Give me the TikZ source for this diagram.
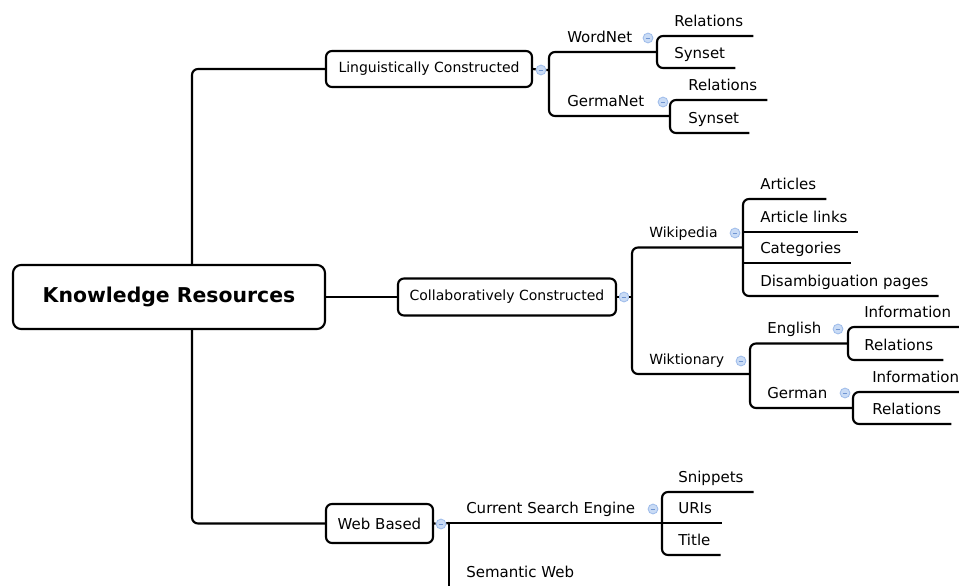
\documentclass[tikz,border=0pt]{standalone}
\usepackage{fontspec}
\setmainfont{DejaVu Sans}
\usetikzlibrary{calc}
\definecolor{foldfill}{HTML}{C9DBF5}
\definecolor{foldline}{HTML}{9DBBEA}
\definecolor{foldminus}{HTML}{6F95D2}
\begin{document}
\begin{tikzpicture}[x=0.75pt, y=-0.75pt,
    link/.style={line width=1.6pt, rounded corners=4.5pt},
    topic/.style={draw, line width=1.6pt, rounded corners=4.5pt, inner sep=0pt, font=\fontsize{10.5}{12}\selectfont},
    leaf/.style={anchor=south west, inner sep=0pt, text depth=7pt, font=\fontsize{11.25}{13.5}\selectfont},
    twig/.style={leaf, font=\fontsize{10.5}{12}\selectfont},
    foldicon/.style={circle, draw=foldline, fill=foldfill, line width=0.6pt, minimum size=7.4pt, inner sep=0pt,
      path picture={\draw[foldminus, line width=0.7pt] ($(path picture bounding box.center)+(-1.7pt,0)$) -- ++(3.4pt,0);}}]
        \useasboundingbox (0,0) rectangle (959,585);
        \clip (0,0) rectangle (959,585);
        %%%%%%%%%%%%%%%%%%%%%%%% Raiz y ramas principales %%%%%%%%%%%%%%%%%%%%%%%%%%%
        \node[topic, minimum width=234pt, minimum height=48pt, rounded corners=6pt,
              font=\fontsize{15.3}{18}\selectfont\bfseries] (root) at (169,297) {Knowledge Resources};
        \node[topic, minimum width=154.5pt, minimum height=27pt] (ling) at (429,69) {Linguistically Constructed};
        \node[topic, minimum width=163.5pt, minimum height=27.75pt] (collab) at (507,297) {Collaboratively Constructed};
        \node[topic, minimum width=80.25pt, minimum height=29.25pt, font=\fontsize{11.25}{13.5}\selectfont] (web) at (379.5,523.5) {Web Based};
        \coordinate (trunk) at (192,297); %Tronco vertical
        \draw[link] (ling.west) -| (trunk |- root.north);
        \draw[link] (web.west) -| (trunk |- root.south);
        \draw[link] (root.east) -- (collab.west);
        %%%%%%%%%%%%%%%%%%%%%%%% Linguistically Constructed %%%%%%%%%%%%%%%%%%%%%%%%%
        \node[foldicon] (lingF) at (541,70) {};
        \coordinate (lingB) at (549,70);
        \coordinate (wnB) at (657,52);
        \coordinate (gnB) at (670,116);
        \draw[link] (ling.east) -- (lingF) -- (lingB);
        \draw[link] (wnB) -| (lingB) |- (gnB);
        \node[leaf] (wordnet) at (567,52) {WordNet};
        \node[foldicon] (wordnetF) at (648,38) {};
        \node[leaf] (wnRel) at (674,36) {Relations};
        \node[leaf] (wnSyn) at (674,68) {Synset};
        \draw[link] ($(wnRel.south east)+(10,0)$) -| (wnB) |- ($(wnSyn.south east)+(10,0)$);
        \node[leaf] (germanet) at (567,116) {GermaNet};
        \node[foldicon] (germanetF) at (663,102) {};
        \node[leaf] (gnRel) at (688,100) {Relations};
        \node[leaf] (gnSyn) at (688,133) {Synset};
        \draw[link] ($(gnRel.south east)+(10,0)$) -| (gnB) |- ($(gnSyn.south east)+(10,0)$);
        %%%%%%%%%%%%%%%%%%%%%%%% Collaboratively Constructed %%%%%%%%%%%%%%%%%%%%%%%
        \node[foldicon] (collabF) at (624,297) {};
        \coordinate (collabB) at (632,297);
        \coordinate (wikiB) at (743,247.5);
        \coordinate (wiktB) at (750,374);
        \draw[link] (collab.east) -- (collabF) -- (collabB);
        \draw[link] (wikiB) -| (collabB) |- (wiktB);
        \node[twig] (wikipedia) at (649,247.5) {Wikipedia};
        \node[foldicon] (wikipediaF) at (735,233) {};
        \node[leaf] (articles) at (760,199) {Articles};
        \node[leaf] (artlinks) at (760,232) {Article links};
        \node[leaf] (categories) at (760,263) {Categories};
        \node[leaf] (disamb) at (760,296) {Disambiguation pages};
        \draw[link] ($(articles.south east)+(10,0)$) -| (wikiB) |- ($(disamb.south east)+(10,0)$);
        \draw[link] (wikiB |- artlinks.south) -- ($(artlinks.south east)+(10,0)$);
        \draw[link] (wikiB |- categories.south) -- ($(categories.south east)+(10,0)$);
        \node[twig] (wiktionary) at (649,374) {Wiktionary};
        \node[foldicon] (wiktionaryF) at (741,361) {};
        \coordinate (enB) at (848,343.5);
        \coordinate (deB) at (853,408);
        \draw[link] (enB) -| (wiktB) |- (deB);
        \node[leaf] (english) at (767,343.5) {English};
        \node[foldicon] (englishF) at (838,329) {};
        \node[leaf] (enInfo) at (864,327) {Information};
        \node[leaf] (enRel) at (864,360) {Relations};
        \draw[link] ($(enInfo.south east)+(10,0)$) -| (enB) |- ($(enRel.south east)+(10,0)$);
        \node[leaf] (german) at (767,408) {German};
        \node[foldicon] (germanF) at (845,393) {};
        \node[leaf] (deInfo) at (872,392) {Information};
        \node[leaf] (deRel) at (872,424) {Relations};
        \draw[link] ($(deInfo.south east)+(10,0)$) -| (deB) |- ($(deRel.south east)+(10,0)$);
        %%%%%%%%%%%%%%%%%%%%%%%% Web Based %%%%%%%%%%%%%%%%%%%%%%%%%%%%%%%%%%%%%%%%%
        \node[foldicon] (webF) at (441,524) {};
        \coordinate (webB) at (449,523);
        \coordinate (cseB) at (662,523);
        \draw[link] (web.east) -- (webF) -- (webB);
        \node[leaf] (cse) at (466,523) {Current Search Engine};
        \node[foldicon] (cseF) at (653,509) {};
        \node[leaf] (semweb) at (466,587) {Semantic Web};
        \draw[link, sharp corners] (webB) -- (cseB);
        \draw[link] (webB) -- (webB |- semweb.south); %Sale por abajo
        \node[leaf] (snippets) at (678,492) {Snippets};
        \node[leaf] (uris) at (678,523) {URIs};
        \node[leaf] (title) at (678,555) {Title};
        \draw[link] ($(snippets.south east)+(10,0)$) -| (cseB) |- ($(title.south east)+(10,0)$);
        \draw[link] (cseB) -- ($(uris.south east)+(10,0)$);
\end{tikzpicture}
\end{document}
